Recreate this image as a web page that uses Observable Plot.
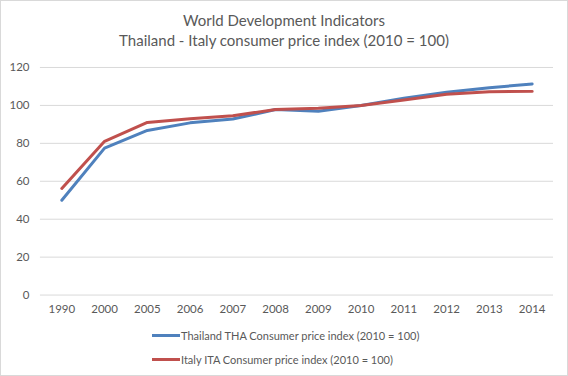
<!DOCTYPE html>
<html>
<head>
<meta charset="utf-8">
<script src="https://cdn.jsdelivr.net/npm/d3@7"></script>
<script src="https://cdn.jsdelivr.net/npm/@observablehq/plot@0.6"></script>
<style>
  html, body { margin: 0; padding: 0; background: #fff; }
  #chart { position: absolute; left: 0; top: 0; width: 566px; height: 374px; border: 1px solid #d9d9d9; background: #fff; font-family: Lato, "Open Sans", sans-serif; color: #595959; overflow: hidden; }
  .title { position: absolute; left: 0; width: 566px; text-align: center; font-size: 15px; color: #595959; line-height: 18px; }
  #plot { position: absolute; left: -1px; top: 54px; }
  .leg { position: absolute; left: 151px; font-size: 11px; color: #595959; display: flex; align-items: center; white-space: nowrap; height: 14px; }
  .sw { width: 28px; height: 3px; margin-right: 1px; }
</style>
</head>
<body>
<div id="chart">
  <div class="title" style="top: 10px;">World Development Indicators</div>
  <div class="title" style="top: 30px;">Thailand - Italy consumer price index (2010 = 100)</div>
  <div id="plot"></div>
  <div id="legend"></div>
</div>
<script>
const years = ["1990","2000","2005","2006","2007","2008","2009","2010","2011","2012","2013","2014"];
const thailand = [50.0, 77.5, 86.8, 90.8, 92.8, 97.8, 96.9, 100, 103.8, 106.9, 109.3, 111.3];
const italy = [56.2, 81.1, 91.0, 93.0, 94.6, 97.8, 98.5, 100, 102.8, 105.9, 107.2, 107.4];
const yTicks = [0, 20, 40, 60, 80, 100, 120];
const seriesNames = ["Thailand THA Consumer price index (2010 = 100)", "Italy ITA Consumer price index (2010 = 100)"];
const seriesColors = ["#4f81bd", "#c0504d"];

const rows = [];
years.forEach((y, i) => rows.push({year: y, value: thailand[i], series: seriesNames[0]}));
years.forEach((y, i) => rows.push({year: y, value: italy[i], series: seriesNames[1]}));

const plot = Plot.plot({
  width: 568,
  height: 266,
  marginTop: 12,
  marginBottom: 26,
  marginLeft: 40,
  marginRight: 14,
  style: { fontFamily: "Lato, 'Open Sans', sans-serif", fontSize: "11.5px", color: "#595959", background: "transparent" },
  x: { type: "point", domain: years, padding: 0.5, round: false, label: null, tickSize: 0, tickPadding: 10 },
  y: { domain: [0, 120], ticks: yTicks, label: null, tickSize: 0, tickPadding: 11 },
  color: { domain: seriesNames, range: seriesColors },
  marks: [
    Plot.ruleY(yTicks, { stroke: "#d9d9d9", strokeWidth: 1 }),
    Plot.line(rows, { x: "year", y: "value", z: "series", stroke: "series", strokeWidth: 3, strokeLinejoin: "round", strokeLinecap: "round" })
  ]
});
document.getElementById("plot").appendChild(plot);

const legend = document.getElementById("legend");
seriesNames.forEach((name, i) => {
  const d = document.createElement("div");
  d.className = "leg";
  d.style.top = (i === 0 ? 327 : 351) + "px";
  d.innerHTML = `<span class="sw" style="background:${seriesColors[i]}"></span><span>${name}</span>`;
  legend.appendChild(d);
});
</script>
</body>
</html>
